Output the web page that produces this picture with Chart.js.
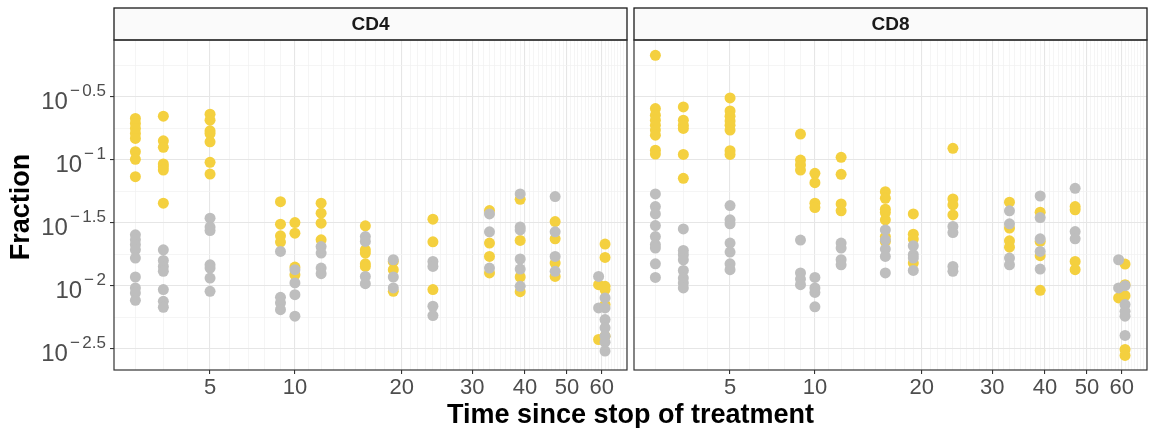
<!DOCTYPE html>
<html>
<head>
<meta charset="utf-8">
<script src="https://cdn.jsdelivr.net/npm/chart.js@4.4.0/dist/chart.umd.min.js"></script>
<style>
  body { margin: 0; background: #fff; width: 1149px; height: 428px; position: relative; overflow: hidden; }
  #cd4 { position: absolute; left: 0; top: 0; }
  #cd8 { position: absolute; left: 631px; top: 0; }
  #xtitle { position: absolute; left: 0; top: 401px; width: 1261px; text-align: center;
            font: bold 27px "Liberation Sans", Arial, sans-serif; line-height: 27px; color: #000; }
</style>
</head>
<body>
<canvas id="cd4" width="631" height="428"></canvas>
<canvas id="cd8" width="518" height="428"></canvas>
<div id="xtitle">Time since stop of treatment</div>
<script>
// days since stop of treatment (one column of dots per day)
const days = [2, 3, 5, 9, 10, 12, 16, 19, 24, 33, 39, 47, 59, 61];
const xTicks = [5, 10, 20, 30, 40, 50, 60];
const yMajor = [-0.5, -1, -1.5, -2, -2.5];   // log10 of fraction
const xShift = 5;                            // x axis is log10(day + 5)

// values are log10(fraction), one list per day
const cd4Yellow = [
  [-0.671, -0.710, -0.750, -0.790, -0.829, -0.935, -0.995, -1.133],
  [-0.653, -0.848, -0.900, -1.032, -1.053, -1.080, -1.343],
  [-0.637, -0.684, -0.769, -0.790, -0.856, -1.019, -1.112],
  [-1.331, -1.510, -1.602, -1.652],
  [-1.497, -1.581, -1.850, -1.911],
  [-1.343, -1.422, -1.502, -1.634],
  [-1.523, -1.713, -1.739, -1.824, -1.845],
  [-1.805, -1.871, -2.043],
  [-1.470, -1.650, -2.029],
  [-1.402, -1.660, -1.766, -1.897],
  [-1.312, -1.639, -1.929, -2.045],
  [-1.489, -1.626, -1.818, -1.924],
  [-1.990, -2.425],
  [-1.668, -1.774, -2.003, -2.029, -2.148, -2.399]
];
const cd4Gray = [
  [-1.594, -1.634, -1.673, -1.713, -1.779, -1.929, -2.016, -2.056, -2.114],
  [-1.713, -1.797, -1.845, -1.884, -2.029, -2.122, -2.169],
  [-1.462, -1.533, -1.560, -1.832, -1.858, -1.937, -2.043],
  [-1.726, -2.090, -2.134, -2.188],
  [-1.871, -1.976, -2.069, -2.240],
  [-1.687, -1.739, -1.858, -1.903],
  [-1.608, -1.647, -1.924, -1.982],
  [-1.792, -1.929, -2.016],
  [-1.805, -1.845, -2.161, -2.235],
  [-1.428, -1.570, -1.858],
  [-1.270, -1.533, -1.555, -1.786, -1.866, -2.003],
  [-1.291, -1.570, -1.766, -1.884],
  [-1.924, -2.174],
  [-2.095, -2.174, -2.267, -2.332, -2.399, -2.446, -2.517]
];
const cd8Yellow = [
  [-0.170, -0.592, -0.645, -0.684, -0.724, -0.763, -0.803, -0.922, -0.953],
  [-0.579, -0.684, -0.724, -0.750, -0.956, -1.146],
  [-0.508, -0.611, -0.653, -0.690, -0.724, -0.763, -0.927, -0.956],
  [-0.795, -1.001, -1.040, -1.080],
  [-1.106, -1.180, -1.343, -1.378],
  [-0.979, -1.114, -1.349, -1.404],
  [-1.252, -1.304, -1.391, -1.418, -1.475, -1.608, -1.647],
  [-1.428, -1.589, -1.628, -1.818],
  [-0.908, -1.309, -1.357, -1.436],
  [-1.335, -1.541, -1.642, -1.692],
  [-1.415, -1.647, -1.760, -2.035],
  [-1.370, -1.396, -1.805, -1.871],
  [-2.095],
  [-1.826, -1.990, -2.077, -2.504, -2.551]
];
const cd8Gray = [
  [-1.270, -1.370, -1.428, -1.521, -1.608, -1.673, -1.699, -1.824, -1.932],
  [-1.547, -1.718, -1.752, -1.792, -1.877, -1.937, -1.976, -2.016],
  [-1.362, -1.475, -1.507, -1.660, -1.731, -1.824, -1.871],
  [-1.636, -1.897, -1.945, -1.990],
  [-1.932, -2.016, -2.051, -2.166],
  [-1.660, -1.699, -1.792, -1.832],
  [-1.555, -1.634, -1.707, -1.766, -1.897],
  [-1.681, -1.752, -1.779, -1.877],
  [-1.528, -1.576, -1.845, -1.884],
  [-1.404, -1.507, -1.779, -1.832],
  [-1.286, -1.457, -1.626, -1.726, -1.866],
  [-1.225, -1.568, -1.626],
  [-1.792, -2.016],
  [-1.998, -2.148, -2.201, -2.240, -2.393]
];

const FONT = '"Liberation Sans", Arial, sans-serif';
const YELLOW = '#F4D03F';
const GRAY = '#BEBEBE';
const X_MIN_DAY = 1.32, X_MAX_DAY = 68.3;

function toPoints(vals) {
  const pts = [];
  days.forEach((d, i) => vals[i].forEach(e => pts.push({ x: Math.log10(d + xShift), y: Math.pow(10, e) })));
  return pts;
}

function isMajorX(v) {
  const d = Math.round(Math.pow(10, v) - xShift);
  return xTicks.includes(d);
}
function isMajorY(v) {
  const e = Math.log10(v);
  return Math.abs(e * 2 - Math.round(e * 2)) < 1e-6;
}

// strip header, panel border, y labels and y title
const panelDecor = {
  id: 'panelDecor',
  afterDraw(chart, args, opts) {
    const ctx = chart.ctx, a = chart.chartArea;
    ctx.save();
    ctx.fillStyle = '#FAFAFA';
    ctx.fillRect(a.left, 8, a.right - a.left, a.top - 8);
    ctx.strokeStyle = '#1A1A1A';
    ctx.lineWidth = 1.3;
    ctx.strokeRect(a.left, 8, a.right - a.left, a.top - 8);
    ctx.fillStyle = '#1A1A1A';
    ctx.font = 'bold 19px ' + FONT;
    ctx.textAlign = 'center';
    ctx.textBaseline = 'middle';
    ctx.fillText(opts.title, (a.left + a.right) / 2, (8 + a.top) / 2 + 1);

    ctx.strokeStyle = '#333333';
    ctx.lineWidth = 1.2;
    ctx.strokeRect(a.left, a.top, a.right - a.left, a.bottom - a.top);

    if (opts.yLabels) {
      const ys = chart.scales.y;
      ctx.fillStyle = '#4D4D4D';
      ctx.textAlign = 'right';
      ctx.textBaseline = 'alphabetic';
      yMajor.forEach(e => {
        const py = ys.getPixelForValue(Math.pow(10, e));
        const num = String(Math.abs(e));
        ctx.font = '17px ' + FONT;
        ctx.fillText(num, 106, py - 1);
        const wNum = ctx.measureText(num).width;
        ctx.fillText('\u2212', 106 - wNum - 2.5, py - 1);
        const wMin = ctx.measureText('\u2212').width;
        ctx.font = '24px ' + FONT;
        ctx.fillText('10', 106 - wNum - 2.5 - wMin - 2, py + 12);
      });
      ctx.translate(22, 207);
      ctx.rotate(-Math.PI / 2);
      ctx.fillStyle = '#000';
      ctx.font = 'bold 27px ' + FONT;
      ctx.textAlign = 'center';
      ctx.textBaseline = 'middle';
      ctx.fillText('Fraction', 0, 0);
    }
    ctx.restore();
  }
};

function makePanel(id, title, yellow, gray, showY) {
  return new Chart(document.getElementById(id), {
    type: 'scatter',
    data: {
      datasets: [
        { label: 'gray', data: toPoints(gray), backgroundColor: GRAY, pointRadius: 5.5, borderWidth: 0, pointHoverRadius: 5.5 },
        { label: 'yellow', data: toPoints(yellow), backgroundColor: YELLOW, pointRadius: 5.5, borderWidth: 0, pointHoverRadius: 5.5 }
      ]
    },
    options: {
      responsive: false,
      animation: false,
      devicePixelRatio: 1,
      layout: { autoPadding: false, padding: { top: 40, left: 0, right: showY ? 4 : 2, bottom: 0 } },
      plugins: {
        legend: { display: false },
        tooltip: { enabled: false },
        panelDecor: { title: title, yLabels: showY }
      },
      scales: {
        x: {
          type: 'linear',
          min: Math.log10(X_MIN_DAY + xShift),
          max: Math.log10(X_MAX_DAY + xShift),
          afterBuildTicks: s => {
            s.ticks = [];
            for (let d = 2; d <= Math.floor(X_MAX_DAY); d++) s.ticks.push({ value: Math.log10(d + xShift) });
          },
          afterFit: s => { s.height = 58; },
          ticks: {
            autoSkip: false, maxRotation: 0, minRotation: 0, padding: 1,
            color: '#4D4D4D', font: { size: 22, family: FONT },
            callback: v => isMajorX(v) ? String(Math.round(Math.pow(10, v) - xShift)) : ''
          },
          grid: {
            color: c => (c.tick && isMajorX(c.tick.value)) ? '#E6E6E6' : '#F1F1F1',
            lineWidth: c => (c.tick && isMajorX(c.tick.value)) ? 1.1 : 0.7,
            tickLength: 4,
            tickColor: c => (c.tick && isMajorX(c.tick.value)) ? '#333333' : 'rgba(0,0,0,0)'
          },
          border: { display: false }
        },
        y: {
          type: 'logarithmic',
          min: Math.pow(10, -2.667),
          max: Math.pow(10, -0.048),
          afterBuildTicks: s => {
            s.ticks = [];
            for (let e = -0.25; e >= -2.5; e -= 0.25) s.ticks.push({ value: Math.pow(10, e) });
          },
          afterFit: s => { s.width = showY ? 114 : 3; },
          ticks: { display: false },
          grid: {
            color: c => (c.tick && isMajorY(c.tick.value)) ? '#E6E6E6' : '#F1F1F1',
            lineWidth: c => (c.tick && isMajorY(c.tick.value)) ? 1.1 : 0.7,
            drawTicks: showY,
            tickLength: 4,
            tickColor: c => (c.tick && isMajorY(c.tick.value)) ? '#333333' : 'rgba(0,0,0,0)'
          },
          border: { display: false }
        }
      }
    },
    plugins: [panelDecor]
  });
}

makePanel('cd4', 'CD4', cd4Yellow, cd4Gray, true);
makePanel('cd8', 'CD8', cd8Yellow, cd8Gray, false);
</script>
</body>
</html>
